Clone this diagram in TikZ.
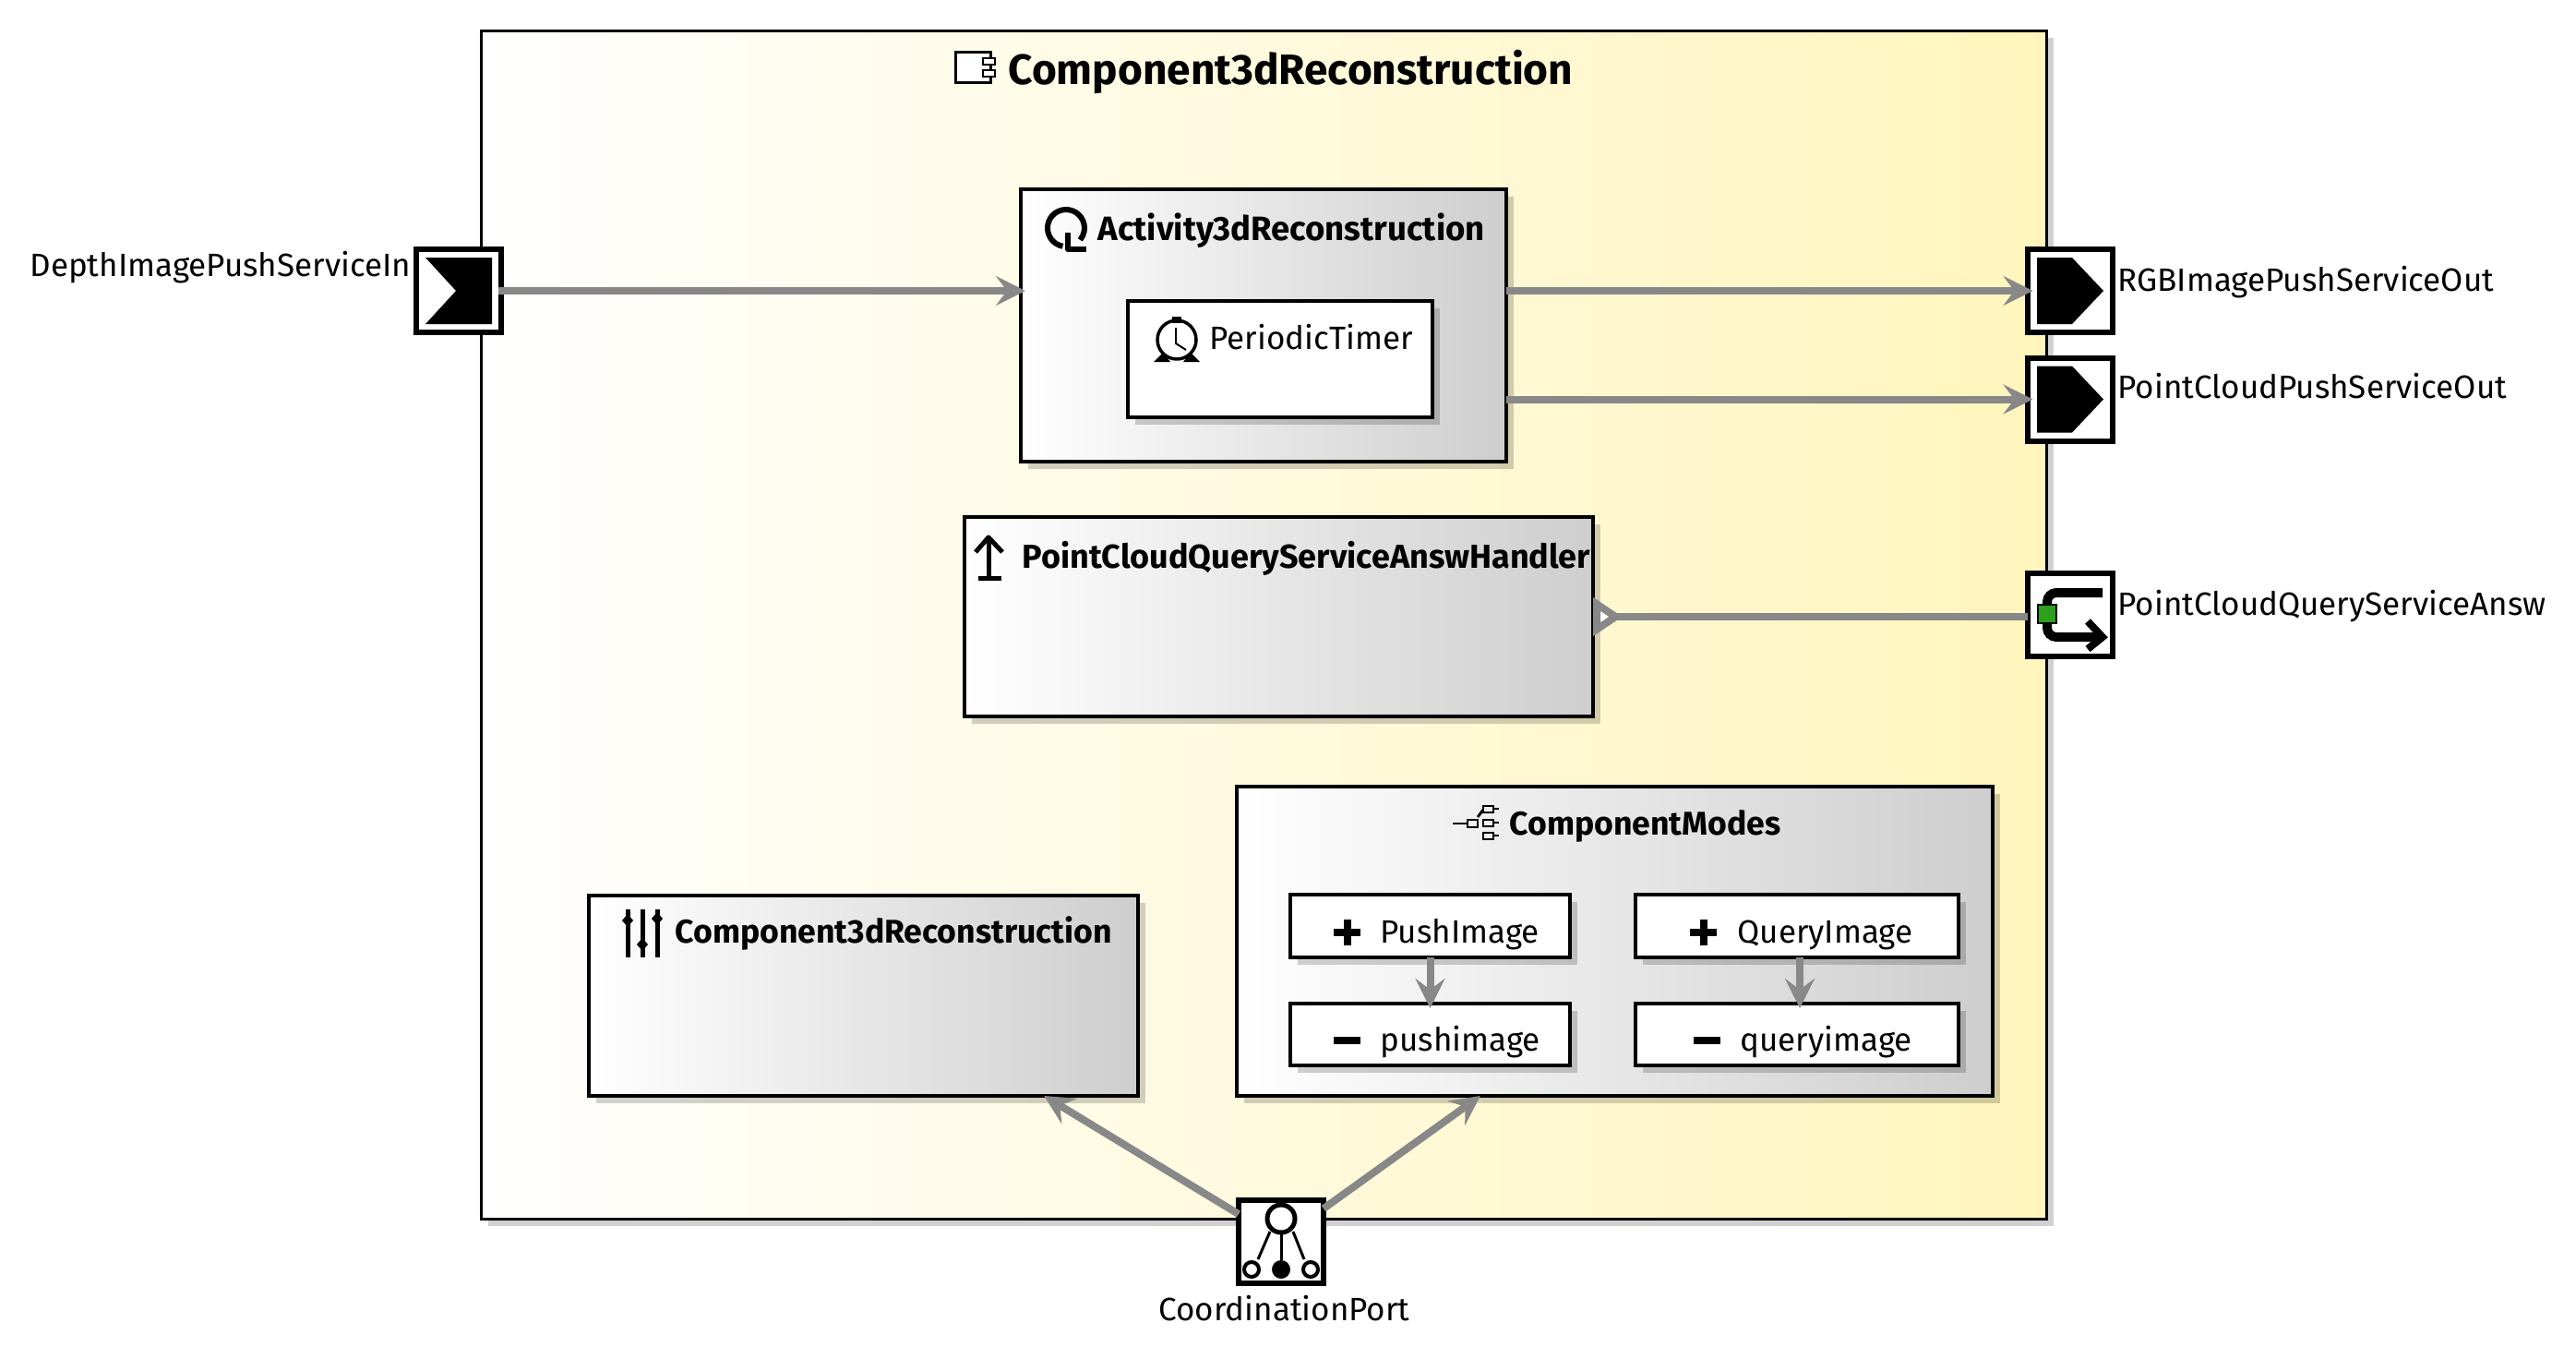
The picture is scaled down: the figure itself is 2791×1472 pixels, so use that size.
\documentclass[tikz,border=0pt]{standalone}
\usepackage{fontspec}
\setmainfont{Fira Sans}
\usetikzlibrary{arrows.meta, shadows, positioning}
\definecolor{connGray}{HTML}{888888}
\definecolor{compYellow}{HTML}{FFF5BC}
\definecolor{boxGray}{HTML}{CECECE}
\definecolor{cmdGreen}{HTML}{2CA01C}
\tikzset{>={Stealth[length=16pt,width=16pt,inset=6pt]}}
\tikzset{
	boxed/.style={draw=black, line width=1.6pt, inner sep=0pt, outer sep=0pt, drop shadow={shadow xshift=4pt, shadow yshift=-4pt, opacity=.18, fill=black}},
	graybox/.style={boxed, left color=white, right color=boxGray},
	whitebox/.style={boxed, fill=white},
	portbox/.style={draw=black, fill=white, line width=3pt, inner sep=0pt, outer sep=0pt, minimum width=46pt, minimum height=45pt},
	conn/.style={draw=connGray, line width=4pt},
	plain/.style={anchor=base west, inner sep=0pt, outer sep=0pt, xshift=-.75pt, yshift=-.75pt, font=\fontsize{17.5}{20}\selectfont},
	heavy/.style={plain, font=\fontsize{17.8}{20}\selectfont\bfseries},
	glyph/.style={draw=black, line width=2.5pt, line join=round},
}

\begin{document}
\begin{tikzpicture}[x=.5pt, y=.5pt]
		\useasboundingbox (0,0) rectangle (2791,-1472);
		\node[boxed, line width=1.5pt, left color=white, right color=compYellow, minimum width=848pt, minimum height=643.5pt] (Comp) at (1369,-676.5) {};
		\node[graybox, minimum width=263pt, minimum height=147.5pt] (Act) at (1369,-352.5) {};
		\node[whitebox, minimum width=165pt, minimum height=63pt] (Tim) at (1387,-389) {};
		\node[graybox, minimum width=340.5pt, minimum height=108pt] (Hand) at (1385.5,-668) {};
		\node[graybox, minimum width=297.5pt, minimum height=108.5pt] (Par) at (935.5,-1078.5) {};
		\node[graybox, minimum width=409.5pt, minimum height=167.5pt] (Mod) at (1749.5,-1019.5) {};
		\node[whitebox, minimum width=151.5pt, minimum height=34pt] (PushA) at (1549.5,-1003) {};
		\node[whitebox, minimum width=151.5pt, minimum height=33.5pt] (PushB) at (1549.5,-1120.5) {};
		\node[whitebox, minimum width=175pt, minimum height=34pt] (QueryA) at (1947,-1003) {};
		\node[whitebox, minimum width=175pt, minimum height=33.5pt] (QueryB) at (1947,-1120.5) {};
		\node[portbox] (In) at (497,-315) {};
		\node[portbox] (Out1) at (2242.5,-315) {};
		\node[portbox] (Out2) at (2242.5,-432.5) {};
		\node[portbox] (Qry) at (2242.5,-666) {};
		\node[portbox] (Coord) at (1388,-1345) {};
		\node[heavy, font=\fontsize{23}{26}\selectfont\bfseries] (CompT) at (1094,-90) {Component3dReconstruction};
		\node[heavy, font=\fontsize{18.3}{20}\selectfont\bfseries] (ActT) at (1191,-259) {Activity3dReconstruction};
		\node[plain] (TimT) at (1312,-377) {PeriodicTimer};
		\node[heavy, font=\fontsize{18}{20}\selectfont\bfseries] (HandT) at (1109,-613.5) {PointCloudQueryServiceAnswHandler};
		\node[heavy] (ParT) at (733,-1020) {Component3dReconstruction};
		\node[heavy] (ModT) at (1637,-903) {ComponentModes};
		\node[plain] (PushAT) at (1497,-1020) {PushImage};
		\node[plain] (PushBT) at (1497,-1137) {pushimage};
		\node[plain] (QueryAT) at (1884,-1020) {QueryImage};
		\node[plain] (QueryBT) at (1887,-1137) {queryimage};
		\node[plain] (InT) at (34,-298) {DepthImagePushServiceIn};
		\node[plain] (Out1T) at (2296,-314) {RGBImagePushServiceOut};
		\node[plain] (Out2T) at (2296,-430) {PointCloudPushServiceOut};
		\node[plain] (QryT) at (2296,-664.5) {PointCloudQueryServiceAnsw};
		\node[plain] (CoordT) at (1257,-1429) {CoordinationPort};
		\fill (461,-279) -- (533,-279) -- (533,-351) -- (461,-351) -- (494,-315) -- cycle;
		\fill (2207,-279) -- (2245,-279) -- (2279,-315) -- (2245,-351) -- (2207,-351) -- cycle;
		\fill (2207,-396.5) -- (2245,-396.5) -- (2279,-432.5) -- (2245,-468.5) -- (2207,-468.5) -- cycle;
		\draw[line width=5pt, rounded corners=5pt] (2278,-642) -- (2218,-642) -- (2218,-690) -- (2276,-690);
		\draw[line width=4pt] (2262,-673) -- (2278,-690) -- (2262,-703);
		\draw[line width=1pt, fill=cmdGreen] (2208,-655) rectangle (2228,-675);
		\draw[line width=2.5pt] (1388,-1320) circle[radius=7.5pt];
		\draw[line width=2pt] (1356,-1375) circle[radius=4pt];
		\fill (1388,-1375) circle[radius=5pt];
		\draw[line width=2pt] (1420,-1375) circle[radius=4pt];
		\draw[line width=1.5pt] (1376,-1334) -- (1363,-1364);
		\draw[line width=1.5pt] (1388,-1335) -- (1388,-1365);
		\draw[line width=1.5pt] (1401,-1334) -- (1413,-1364);
		\draw[line width=1.5pt, fill=white] (1035,-56) rectangle (1073,-89);
		\draw[line width=1.2pt, fill=white] (1065,-63) rectangle (1078,-70);
		\draw[line width=1.2pt, fill=white] (1065,-76) rectangle (1078,-83);
		\draw[glyph, line width=3pt] (1151.5,-266.7) arc[start angle=-100, end angle=-400, radius=10pt];
		\draw[glyph, line width=3pt] (1157,-252) -- (1157,-270) -- (1177,-270);
		\draw[glyph, line width=1.75pt] (1275,-368) circle[radius=10.5pt];
		\fill (1270,-343) rectangle (1280,-350);
		\fill (1250,-392) -- (1260,-382) -- (1268,-392) -- cycle;
		\fill (1282,-392) -- (1290,-382) -- (1300,-392) -- cycle;
		\draw[line width=1pt] (1274,-355) -- (1274,-372) -- (1285,-379);
		\draw[glyph] (1071,-582) -- (1071,-624);
		\draw[glyph] (1060,-626) -- (1085,-626);
		\draw[glyph] (1057,-598) -- (1071,-582) -- (1086,-598);
		\draw[glyph] (680,-985) -- (680,-1037);
		\draw[glyph] (696,-985) -- (696,-1037);
		\draw[glyph] (712,-985) -- (712,-1037);
		\fill (680,-990) -- (686,-997) -- (680,-1004) -- (674,-997) -- cycle;
		\fill (696,-1016) -- (702,-1023) -- (696,-1030) -- (690,-1023) -- cycle;
		\fill (712,-988) -- (718,-995) -- (712,-1002) -- (706,-995) -- cycle;
		\draw[line width=1.4pt] (1574,-892) -- (1590,-892);
		\draw[line width=1.4pt] (1590,-888) rectangle (1601,-896);
		\draw[line width=1.4pt] (1601,-885) -- (1607,-877);
		\draw[line width=1.4pt] (1607,-873) rectangle (1618,-880);
		\draw[line width=1.4pt] (1607,-888) rectangle (1618,-895);
		\draw[line width=1.4pt] (1607,-902) rectangle (1618,-909);
		\draw[line width=1.4pt] (1618,-876) -- (1624,-876);
		\draw[line width=1.4pt] (1618,-891) -- (1624,-891);
		\draw[line width=1.4pt] (1618,-905) -- (1624,-905);
		\fill (1445,-1006) rectangle (1474,-1014);
		\fill (1455.5,-996) rectangle (1463.5,-1024);
		\fill (1445,-1123) rectangle (1474,-1131);
		\fill (1831,-1006) rectangle (1860,-1014);
		\fill (1841.5,-996) rectangle (1849.5,-1024);
		\fill (1835,-1123) rectangle (1864,-1131);
		\draw[conn, ->, shorten >=-2.5pt, shorten <=-1.75pt] (In.east) -- (In.east -| Act.west);
		\draw[conn, ->, shorten >=-3pt] (Out1.west -| Act.east) -- (Out1.west);
		\draw[conn, ->, shorten >=-3pt] (Out2.west -| Act.east) -- (Out2.west);
		\draw[conn, {Triangle[reversed, fill=white, length=16pt, width=20pt]}-] (Hand.east) -- (Hand.east -| Qry.west);
		\draw[conn, ->, shorten >=-2.5pt] (PushA.south) -- (PushB.north);
		\draw[conn, ->, shorten >=-2.5pt] ([xshift=1.5pt]QueryA.south) -- ([xshift=1.5pt]QueryB.north);
		\draw[conn, ->] (Coord.147) -- (Par.-29.3);
		\draw[conn, ->] (Coord.38) -- (Mod.-131);
\end{tikzpicture}
\end{document}
